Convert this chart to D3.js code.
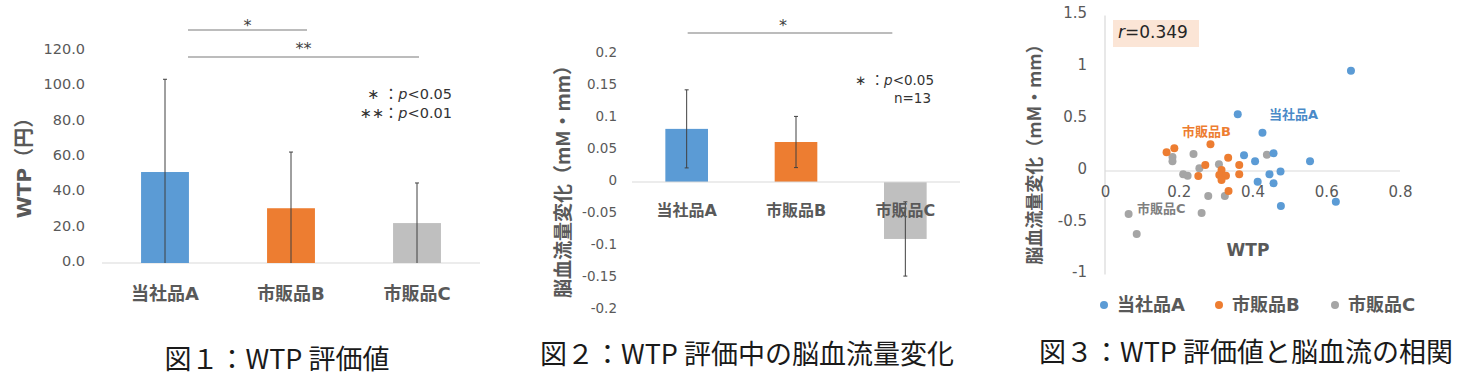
<!DOCTYPE html>
<html><head><meta charset="utf-8">
<script src="https://cdn.jsdelivr.net/npm/d3@7"></script>
<style>
html,body{margin:0;padding:0;background:#fff;}
svg{display:block;}
</style></head>
<body>
<svg id="c" width="1474" height="379"></svg>
<script>
// ---------- data ----------
const categories = ["当社品A", "市販品B", "市販品C"];
const barColors = ["#5B9BD5", "#ED7D31", "#BFBFBF"];
const dotColors = ["#5B9BD5", "#ED7D31", "#A5A5A5"];

// Fig 1: WTP (yen)
const wtpMean = [51.5, 31.0, 22.6];
const wtpSD = [52.5, 31.8, 22.7];
const wtpTicks = [0, 20, 40, 60, 80, 100, 120];

// Fig 2: cerebral blood flow change (mM·mm)
const cbfMean = [0.083, 0.0625, -0.089];
const cbfSD = [0.061, 0.040, 0.058];
const cbfTicks = [-0.2, -0.15, -0.1, -0.05, 0, 0.05, 0.1, 0.15, 0.2];

// Fig 3: scatter [WTP, CBF change]
const scatterA = [[0.667,0.968],[0.360,0.547],[0.427,0.370],[0.377,0.151],[0.407,0.094],[0.457,0.171],[0.556,0.094],[0.476,-0.006],[0.446,-0.032],[0.414,-0.103],[0.457,-0.119],[0.477,-0.338],[0.626,-0.296]];
const scatterB = [[0.167,0.180],[0.188,0.219],[0.286,0.258],[0.334,0.128],[0.272,0.058],[0.364,0.058],[0.253,-0.048],[0.364,-0.032],[0.316,0.010],[0.310,-0.039],[0.328,-0.045],[0.316,-0.087],[0.335,-0.193]];
const scatterC = [[0.183,0.135],[0.183,0.095],[0.240,0.164],[0.256,0.026],[0.212,-0.032],[0.224,-0.045],[0.309,0.065],[0.280,-0.241],[0.325,-0.241],[0.439,0.157],[0.064,-0.415],[0.086,-0.608],[0.262,-0.405]];
const xTicks3 = [0, 0.2, 0.4, 0.6, 0.8];
const yTicks3 = [-1, -0.5, 0, 0.5, 1, 1.5];
const rValue = "0.349";

const svg = d3.select("#c");
svg.append("rect").attr("width",1474).attr("height",379).attr("fill","#fff");

const NUM = "'DejaVu Sans', 'Noto Sans CJK JP', sans-serif";
const JP = "'DejaVu Sans', 'Noto Sans CJK JP', sans-serif";
const CJK = "'Noto Sans CJK JP', sans-serif";
const TICK = "#595959";
const AXIS = "#D9D9D9";

function styleAxis(g, size){
  g.select(".domain").remove();
  g.selectAll(".tick line").remove();
  g.selectAll("text").attr("fill", TICK).attr("font-size", size).attr("font-family", NUM);
}

// ================= Fig 1 =================
{
  const x = d3.scaleBand().domain(categories).range([102, 480]);
  const y = d3.scaleLinear().domain([0, 120]).range([263, 51]);
  const bw = x.bandwidth() * 0.38;
  const g = svg.append("g");
  g.append("line").attr("x1",102).attr("x2",480).attr("y1",y(0)).attr("y2",y(0)).attr("stroke",AXIS).attr("stroke-width",1.2);
  g.selectAll("rect.bar").data(categories).join("rect")
    .attr("x", d => x(d) + x.bandwidth()/2 - bw/2).attr("width", bw)
    .attr("y", (d,i) => y(wtpMean[i])).attr("height", (d,i) => y(0) - y(wtpMean[i]))
    .attr("fill", (d,i) => barColors[i]);
  categories.forEach((d,i) => {
    const cx = x(d) + x.bandwidth()/2;
    const lo = Math.max(0, wtpMean[i] - wtpSD[i]), hi = wtpMean[i] + wtpSD[i];
    g.append("line").attr("x1",cx).attr("x2",cx).attr("y1",y(lo)).attr("y2",y(hi)).attr("stroke","#404040").attr("stroke-width",1);
    g.append("line").attr("x1",cx-2).attr("x2",cx+2).attr("y1",y(hi)).attr("y2",y(hi)).attr("stroke","#404040").attr("stroke-width",1);
  });
  const ax = g.append("g").attr("transform","translate(85,-2)")
    .call(d3.axisLeft(y).tickValues(wtpTicks).tickSize(0).tickPadding(0).tickFormat(d3.format(".1f")));
  styleAxis(ax, 14.5);
  g.selectAll("text.cat").data(categories).join("text")
    .attr("x", d => x(d) + x.bandwidth()/2).attr("y", 294).attr("dy","0.35em")
    .attr("text-anchor","middle").attr("font-family",JP).attr("font-weight","bold").attr("font-size",18).attr("fill",TICK).text(d=>d);
  g.append("text").attr("transform","translate(24,163) rotate(-90)").attr("dy","0.35em")
    .attr("text-anchor","middle").attr("font-family",JP).attr("font-weight","bold").attr("font-size",20).attr("fill",TICK).text("WTP（円）");
  const cA = x(categories[0]) + x.bandwidth()/2, cB = x(categories[1]) + x.bandwidth()/2, cC = x(categories[2]) + x.bandwidth()/2;
  const sig = [{x1: cA + 23, x2: cB + 16, yy: 30, lab: "*", ly: 25}, {x1: cA + 23, x2: cC + 2, yy: 57, lab: "**", ly: 48}];
  sig.forEach(s => {
    g.append("line").attr("x1",s.x1).attr("x2",s.x2).attr("y1",s.yy).attr("y2",s.yy).attr("stroke","#A6A6A6").attr("stroke-width",1.5);
    g.append("text").attr("x",(s.x1+s.x2)/2).attr("y",s.ly).attr("dy","0.35em").attr("text-anchor","middle")
      .attr("font-family",NUM).attr("font-size",16).attr("fill","#404040").text(s.lab);
  });
  const l1 = g.append("text").attr("x",452).attr("y",94).attr("dy","0.35em").attr("text-anchor","end").attr("font-family",NUM).attr("font-size",14.5).attr("fill","#333");
  l1.append("tspan").text("∗ ：");
  l1.append("tspan").attr("font-style","italic").text("p");
  l1.append("tspan").text("<0.05");
  const l2 = g.append("text").attr("x",452).attr("y",113).attr("dy","0.35em").attr("text-anchor","end").attr("font-family",NUM).attr("font-size",14.5).attr("fill","#333");
  l2.append("tspan").text("∗∗：");
  l2.append("tspan").attr("font-style","italic").text("p");
  l2.append("tspan").text("<0.01");
  g.append("text").attr("x",277).attr("y",360).attr("dy","0.35em").attr("text-anchor","middle")
    .attr("font-family",CJK).attr("font-size",27).attr("fill","#1a1a1a").text("図１：WTP 評価値");
}

// ================= Fig 2 =================
{
  const x = d3.scaleBand().domain(categories).range([632, 960]);
  const y = d3.scaleLinear().domain([-0.2, 0.2]).range([310, 54]);
  const bw = x.bandwidth() * 0.39;
  const g = svg.append("g");
  g.selectAll("rect.bar").data(categories).join("rect")
    .attr("x", d => x(d) + x.bandwidth()/2 - bw/2).attr("width", bw)
    .attr("y", (d,i) => Math.min(y(0), y(cbfMean[i]))).attr("height", (d,i) => Math.abs(y(0) - y(cbfMean[i])))
    .attr("fill", (d,i) => barColors[i]);
  g.append("line").attr("x1",632).attr("x2",960).attr("y1",y(0)).attr("y2",y(0)).attr("stroke",AXIS).attr("stroke-width",1.2);
  categories.forEach((d,i) => {
    const cx = x(d) + x.bandwidth()/2;
    const lo = cbfMean[i] - cbfSD[i], hi = cbfMean[i] + cbfSD[i];
    g.append("line").attr("x1",cx).attr("x2",cx).attr("y1",y(lo)).attr("y2",y(hi)).attr("stroke","#404040").attr("stroke-width",1);
    [lo,hi].forEach(v => g.append("line").attr("x1",cx-2).attr("x2",cx+2).attr("y1",y(v)).attr("y2",y(v)).attr("stroke","#404040").attr("stroke-width",1));
  });
  const ax = g.append("g").attr("transform","translate(617,-2)")
    .call(d3.axisLeft(y).tickValues(cbfTicks).tickSize(0).tickPadding(0).tickFormat(d => String(d)));
  styleAxis(ax, 13.5);
  g.selectAll("text.cat").data(categories).join("text")
    .attr("x", d => x(d) + x.bandwidth()/2).attr("y", 210).attr("dy","0.35em")
    .attr("text-anchor","middle").attr("font-family",JP).attr("font-weight","bold").attr("font-size",16).attr("fill",TICK).text(d=>d);
  g.append("text").attr("transform","translate(563,177) rotate(-90)").attr("dy","0.35em")
    .attr("text-anchor","middle").attr("font-family",CJK).attr("font-weight","bold").attr("font-size",19).attr("fill",TICK).text("脳血流量変化（mM・mm）");
  const cA = x(categories[0]) + x.bandwidth()/2, cC = x(categories[2]) + x.bandwidth()/2;
  g.append("line").attr("x1",cA+1).attr("x2",cC-13).attr("y1",33).attr("y2",33).attr("stroke","#A6A6A6").attr("stroke-width",1.5);
  g.append("text").attr("x",783).attr("y",25).attr("dy","0.35em").attr("text-anchor","middle").attr("font-family",NUM).attr("font-size",16).attr("fill","#404040").text("*");
  const l1 = g.append("text").attr("x",934).attr("y",80).attr("dy","0.35em").attr("text-anchor","end").attr("font-family",NUM).attr("font-size",13.5).attr("fill","#333");
  l1.append("tspan").text("∗ ：");
  l1.append("tspan").attr("font-style","italic").text("p");
  l1.append("tspan").text("<0.05");
  g.append("text").attr("x",931).attr("y",98).attr("dy","0.35em").attr("text-anchor","end").attr("font-family",NUM).attr("font-size",13.5).attr("fill","#333").text("n=13");
  g.append("text").attr("x",747).attr("y",355).attr("dy","0.35em").attr("text-anchor","middle")
    .attr("font-family",CJK).attr("font-size",27).attr("fill","#1a1a1a").text("図２：WTP 評価中の脳血流量変化");
}

// ================= Fig 3 =================
{
  const x = d3.scaleLinear().domain([0, 0.8]).range([1105, 1400]);
  const y = d3.scaleLinear().domain([-1, 1.5]).range([274.6, 15.6]);
  const g = svg.append("g");
  g.append("line").attr("x1",x(0)).attr("x2",x(0)).attr("y1",y(1.5)).attr("y2",y(-1)).attr("stroke",AXIS).attr("stroke-width",1.2);
  g.append("line").attr("x1",x(0)).attr("x2",x(0.8)).attr("y1",y(0)).attr("y2",y(0)).attr("stroke",AXIS).attr("stroke-width",1.2);
  const ay = g.append("g").attr("transform","translate(1087,-2.5)")
    .call(d3.axisLeft(y).tickValues(yTicks3).tickSize(0).tickPadding(0).tickFormat(d => String(d)));
  styleAxis(ay, 15);
  const axb = g.append("g").attr("transform",`translate(0,${y(0)})`)
    .call(d3.axisBottom(x).tickValues(xTicks3).tickSize(0).tickFormat(d => String(d)));
  styleAxis(axb, 15);
  axb.selectAll("text").attr("y", 21).attr("dy","0.35em");
  g.append("rect").attr("x",1113).attr("y",20).attr("width",86).attr("height",27).attr("fill","#FBE5D6");
  const rt = g.append("text").attr("x",1118).attr("y",32).attr("dy","0.35em").attr("font-family",NUM).attr("font-size",17).attr("fill","#262626");
  rt.append("tspan").attr("font-style","italic").text("r");
  rt.append("tspan").text("=" + rValue);
  const series = [scatterA, scatterB, scatterC];
  [2,1,0].forEach(si => {
    g.selectAll(null).data(series[si]).join("circle")
      .attr("cx", d => x(d[0])).attr("cy", d => y(d[1])).attr("r", 4).attr("fill", dotColors[si]);
  });
  const ann = [{t:categories[0], x:1269, y:114, c:"#4A8AC8"}, {t:categories[1], x:1182, y:131, c:"#ED7D31"}, {t:categories[2], x:1137, y:208, c:"#7F7F7F"}];
  ann.forEach(a => g.append("text").attr("x",a.x).attr("y",a.y).attr("dy","0.35em").attr("font-family",JP).attr("font-weight","bold").attr("font-size",13).attr("fill",a.c).text(a.t));
  g.append("text").attr("x",1248).attr("y",250).attr("dy","0.35em").attr("text-anchor","middle").attr("font-family",NUM).attr("font-weight","bold").attr("font-size",17).attr("fill",TICK).text("WTP");
  g.append("text").attr("transform","translate(1035,150) rotate(-90)").attr("dy","0.35em")
    .attr("text-anchor","middle").attr("font-family",CJK).attr("font-weight","bold").attr("font-size",18).attr("fill",TICK).text("脳血流量変化（mM・mm）");
  const lx = [1104, 1219, 1335];
  categories.forEach((d,i) => {
    g.append("circle").attr("cx",lx[i]).attr("cy",305).attr("r",4).attr("fill",dotColors[i]);
    g.append("text").attr("x",lx[i]+13).attr("y",305).attr("dy","0.35em").attr("font-family",JP).attr("font-weight","bold").attr("font-size",18).attr("fill",TICK).text(d);
  });
  g.append("text").attr("x",1246).attr("y",353).attr("dy","0.35em").attr("text-anchor","middle")
    .attr("font-family",CJK).attr("font-size",27).attr("fill","#1a1a1a").text("図３：WTP 評価値と脳血流の相関");
}
</script>
</body></html>
